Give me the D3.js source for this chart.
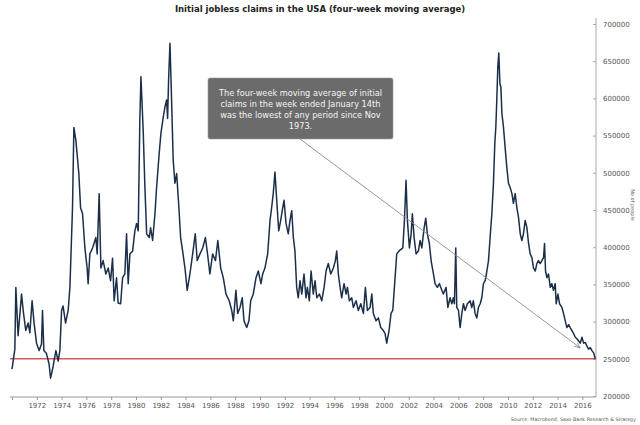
<!DOCTYPE html>
<html>
<head>
<meta charset="utf-8">
<script src="https://cdn.jsdelivr.net/npm/d3@7"></script>
<style>
  html, body { margin: 0; padding: 0; background: #fff; }
  svg { display: block; font-family: "DejaVu Sans", Verdana, sans-serif; }
</style>
</head>
<body>
<svg id="chart" width="640" height="425"></svg>
<script>
// Four-week moving average of initial claims, [decimal year, thousands]
const claims1970s = [
  [1970.00, 236], [1970.23, 263], [1970.31, 346], [1970.49, 281], [1970.77, 337], [1970.90, 315],
  [1971.11, 288], [1971.30, 298], [1971.44, 285], [1971.62, 328], [1971.78, 298], [1971.98, 271],
  [1972.19, 261], [1972.38, 270], [1972.46, 315], [1972.57, 261], [1972.78, 257], [1972.99, 243],
  [1973.11, 224], [1973.32, 240], [1973.54, 261], [1973.72, 247], [1973.86, 261], [1974.00, 315],
  [1974.12, 321], [1974.32, 298], [1974.53, 315], [1974.67, 346], [1974.88, 453], [1974.99, 561],
  [1975.15, 544], [1975.39, 499], [1975.53, 453], [1975.69, 445], [1975.88, 399], [1976.06, 372],
  [1976.14, 351], [1976.28, 391], [1976.50, 399], [1976.76, 413], [1976.87, 391], [1977.03, 472],
  [1977.17, 372], [1977.35, 382], [1977.57, 364], [1977.76, 372], [1977.95, 355], [1978.11, 385],
  [1978.24, 328], [1978.43, 359], [1978.56, 325], [1978.76, 324], [1978.92, 359], [1979.10, 364],
  [1979.24, 418], [1979.37, 351], [1979.51, 391], [1979.73, 395], [1979.91, 422]
];
const claims1980s = [
  [1980.05, 432], [1980.18, 422], [1980.31, 571], [1980.40, 629], [1980.58, 557], [1980.72, 480],
  [1980.86, 418], [1981.07, 413], [1981.18, 426], [1981.34, 409], [1981.53, 445], [1981.66, 480],
  [1981.87, 526], [1982.01, 553], [1982.20, 575], [1982.33, 588], [1982.47, 598], [1982.55, 573],
  [1982.63, 625], [1982.74, 674], [1982.87, 598], [1983.00, 517], [1983.14, 486], [1983.28, 499],
  [1983.46, 453], [1983.60, 413], [1983.76, 395], [1983.95, 372], [1984.13, 342], [1984.35, 364],
  [1984.57, 391], [1984.78, 418], [1984.94, 382], [1985.16, 391], [1985.38, 399], [1985.60, 413],
  [1985.77, 391], [1985.96, 364], [1986.18, 391], [1986.41, 382], [1986.60, 409], [1986.83, 372],
  [1987.04, 359], [1987.26, 337], [1987.52, 328], [1987.72, 315], [1987.85, 301], [1988.06, 342],
  [1988.20, 311], [1988.39, 319], [1988.57, 332], [1988.71, 301], [1988.93, 292], [1989.11, 301],
  [1989.25, 328], [1989.46, 337], [1989.68, 359], [1989.86, 368]
];
const claims1990s = [
  [1990.08, 351], [1990.22, 364], [1990.40, 372], [1990.62, 391], [1990.81, 436], [1990.94, 453],
  [1991.07, 472], [1991.21, 501], [1991.35, 463], [1991.51, 422], [1991.67, 436], [1991.83, 453],
  [1991.94, 463], [1992.10, 432], [1992.28, 418], [1992.42, 436], [1992.56, 449], [1992.69, 413],
  [1992.82, 395], [1992.96, 346], [1993.09, 332], [1993.23, 355], [1993.37, 337], [1993.55, 364],
  [1993.71, 332], [1993.82, 346], [1993.98, 328], [1994.12, 368], [1994.30, 337], [1994.44, 355],
  [1994.58, 332], [1994.79, 337], [1994.98, 328], [1995.17, 346], [1995.33, 368], [1995.51, 378],
  [1995.71, 364], [1995.92, 372], [1996.08, 382], [1996.19, 395], [1996.32, 364], [1996.46, 346],
  [1996.59, 332], [1996.78, 351], [1996.94, 337], [1997.05, 346], [1997.21, 328], [1997.40, 332],
  [1997.53, 319], [1997.75, 328], [1997.93, 315], [1998.13, 324], [1998.34, 311], [1998.50, 346],
  [1998.66, 315], [1998.88, 319], [1999.02, 337], [1999.14, 311], [1999.36, 301], [1999.55, 305],
  [1999.74, 292], [1999.95, 288]
];
const claims2000s = [
  [2000.09, 284], [2000.22, 271], [2000.41, 288], [2000.57, 311], [2000.71, 315], [2000.84, 346],
  [2001.03, 391], [2001.22, 395], [2001.52, 399], [2001.65, 436], [2001.78, 490], [2001.89, 436],
  [2002.05, 399], [2002.19, 418], [2002.29, 445], [2002.43, 413], [2002.59, 391], [2002.78, 395],
  [2002.91, 409], [2003.05, 399], [2003.24, 426], [2003.37, 439], [2003.50, 418], [2003.66, 405],
  [2003.80, 382], [2003.99, 364], [2004.12, 351], [2004.31, 346], [2004.47, 351], [2004.67, 342],
  [2004.79, 337], [2005.01, 346], [2005.15, 319], [2005.33, 332], [2005.47, 324], [2005.60, 332],
  [2005.68, 324], [2005.79, 399], [2005.87, 319], [2006.01, 315], [2006.14, 292], [2006.28, 311],
  [2006.41, 324], [2006.54, 315], [2006.73, 324], [2006.95, 328], [2007.08, 319], [2007.21, 328],
  [2007.35, 311], [2007.49, 305], [2007.62, 319], [2007.76, 324], [2007.89, 332], [2008.02, 351],
  [2008.16, 355], [2008.30, 368], [2008.43, 382], [2008.56, 413], [2008.70, 445], [2008.83, 486],
  [2008.94, 540], [2009.02, 561], [2009.10, 598], [2009.18, 642], [2009.26, 661], [2009.35, 620],
  [2009.43, 615], [2009.51, 580], [2009.64, 561], [2009.77, 534], [2009.91, 507]
];
const claims2010s = [
  [2010.04, 486], [2010.18, 480], [2010.32, 472], [2010.44, 459], [2010.58, 472], [2010.72, 453],
  [2010.85, 440], [2010.99, 418], [2011.12, 409], [2011.25, 418], [2011.39, 436], [2011.53, 426],
  [2011.66, 405], [2011.79, 391], [2011.93, 386], [2012.06, 372], [2012.20, 368], [2012.33, 378],
  [2012.46, 382], [2012.60, 378], [2012.74, 382], [2012.87, 386], [2012.95, 405], [2013.03, 368],
  [2013.14, 359], [2013.27, 364], [2013.41, 346], [2013.54, 351], [2013.67, 342], [2013.81, 351],
  [2013.89, 324], [2014.03, 337], [2014.16, 324], [2014.35, 319], [2014.48, 311], [2014.62, 301],
  [2014.75, 292], [2014.89, 296], [2015.02, 292], [2015.16, 288], [2015.29, 284], [2015.43, 279],
  [2015.56, 277], [2015.70, 274], [2015.83, 271], [2015.97, 279], [2016.10, 271], [2016.24, 272],
  [2016.37, 267], [2016.50, 263], [2016.64, 265], [2016.77, 261], [2016.91, 258], [2017.04, 250]
];

// Current level, marked with the red line
const latestLevel = 250000;

// Axis ticks
const xTickYears = d3.range(1970, 2017, 2);
const yTickValues = d3.range(200000, 700001, 50000);

const title = "Initial jobless claims in the USA (four-week moving average)";
const yTitle = "No of people";
const note = [
  "The four-week moving average of initial",
  "claims in the week ended January 14th",
  "was the lowest of any period since Nov",
  "1973."
];
const source = "Source: Macrobond, Saxo Bank Research & Strategy";

const series = [...claims1970s, ...claims1980s, ...claims1990s, ...claims2000s, ...claims2010s]
  .map(([year, k]) => ({ year: year, value: k * 1000 }));

const svg = d3.select("#chart");

const x = d3.scaleLinear().domain([1970, 2017.1]).range([12, 596]);
const y = d3.scaleLinear().domain([200000, 700000]).range([396, 24]);

// Title
svg.append("text")
  .attr("x", 320)
  .attr("y", 12)
  .attr("text-anchor", "middle")
  .style("font-size", "8.5px")
  .style("font-weight", "bold")
  .style("fill", "#222")
  .text(title);

// Axis lines
svg.append("line")
  .attr("x1", 10).attr("x2", 596)
  .attr("y1", 397).attr("y2", 397)
  .style("stroke", "#999").style("stroke-width", 1);
svg.append("line")
  .attr("x1", 596).attr("x2", 596)
  .attr("y1", 18).attr("y2", 397)
  .style("stroke", "#aaa").style("stroke-width", 1);

// Bottom axis
const xAxis = svg.append("g")
  .attr("transform", "translate(0,397)")
  .call(
    d3.axisBottom(x)
      .tickValues(xTickYears)
      .tickFormat((d) => (d === 1970 ? "" : d))
      .tickSize(3)
      .tickPadding(3)
  );
xAxis.select(".domain").remove();
xAxis.selectAll("line").style("stroke", "#999");
xAxis.selectAll("text")
  .style("font-size", "7px")
  .style("font-family", "DejaVu Sans, Verdana, sans-serif")
  .style("fill", "#555");

// Right axis
const yAxis = svg.append("g")
  .attr("transform", "translate(596,0)")
  .call(
    d3.axisRight(y)
      .tickValues(yTickValues)
      .tickFormat(d3.format("d"))
      .tickSizeInner(-3)
      .tickSizeOuter(0)
      .tickPadding(7)
  );
yAxis.select(".domain").remove();
yAxis.selectAll("line").style("stroke", "#aaa");
yAxis.selectAll("text")
  .style("font-size", "7px")
  .style("font-family", "DejaVu Sans, Verdana, sans-serif")
  .style("fill", "#555");

svg.append("text")
  .attr("transform", "translate(631,205) rotate(90)")
  .attr("text-anchor", "middle")
  .style("font-size", "5px")
  .style("fill", "#666")
  .text(yTitle);

// Red reference line at the latest level
svg.append("line")
  .attr("x1", 10).attr("x2", 596)
  .attr("y1", y(latestLevel)).attr("y2", y(latestLevel))
  .style("stroke", "#d65a57")
  .style("stroke-width", 1.6);

// Claims line
const line = d3.line()
  .x((d) => x(d.year))
  .y((d) => y(d.value));

svg.append("path")
  .datum(series)
  .attr("d", line)
  .style("fill", "none")
  .style("stroke", "#1b2f4b")
  .style("stroke-width", 1.5)
  .style("stroke-linejoin", "round");

// Annotation arrow
svg.append("defs").append("marker")
  .attr("id", "arrow")
  .attr("viewBox", "0 0 10 10")
  .attr("refX", 9).attr("refY", 5)
  .attr("markerWidth", 7).attr("markerHeight", 7)
  .attr("orient", "auto")
  .append("path")
  .attr("d", "M0,1 L10,5 L0,9")
  .style("fill", "none")
  .style("stroke", "#8a8a8a")
  .style("stroke-width", 1.2);

svg.append("line")
  .attr("x1", 300).attr("y1", 139)
  .attr("x2", x(2015.8)).attr("y2", y(265000))
  .attr("marker-end", "url(#arrow)")
  .style("stroke", "#8a8a8a")
  .style("stroke-width", 0.9);

// Annotation box
const box = svg.append("g");
box.append("rect")
  .attr("x", 208).attr("y", 78)
  .attr("width", 185).attr("height", 61)
  .attr("rx", 2)
  .style("fill", "#6b6b6b")
  .style("stroke", "#9a9a9a")
  .style("stroke-width", 0.6);
box.selectAll("text")
  .data(note)
  .enter()
  .append("text")
  .attr("x", 300.5)
  .attr("y", (d, i) => 95.5 + i * 11)
  .attr("text-anchor", "middle")
  .style("font-size", "8.2px")
  .style("fill", "#f4f4f4")
  .text((d) => d);

// Source
svg.append("text")
  .attr("x", 636)
  .attr("y", 421)
  .attr("text-anchor", "end")
  .style("font-size", "4.8px")
  .style("fill", "#555")
  .text(source);
</script>
</body>
</html>
